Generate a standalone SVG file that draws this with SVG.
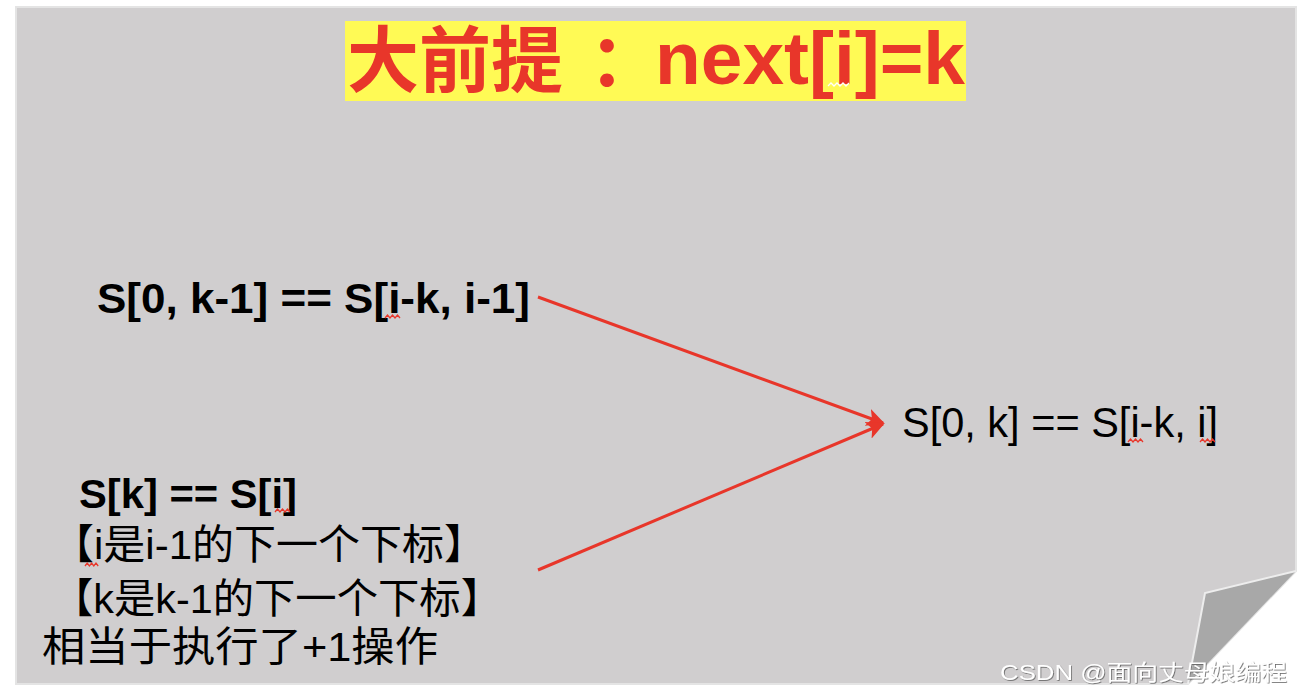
<svg xmlns="http://www.w3.org/2000/svg" width="1302" height="694" viewBox="0 0 1302 694">
<style>
.lat{font-family:"Liberation Sans","Noto Sans CJK SC",sans-serif;fill:#000}
.cjk{font-family:"Noto Sans CJK SC","Liberation Sans",sans-serif;fill:#000}
.b{font-weight:bold}
.red{stroke:#E8362A;stroke-width:3;fill:none}
.sq{stroke:#E8362A;stroke-width:1.3;fill:none}
</style>
<defs>
<marker id="ah" viewBox="0 0 10 10" refX="9" refY="5" markerWidth="6" markerHeight="6" markerUnits="strokeWidth" orient="auto">
<path d="M0,0 L10,5 L0,10 L2.5,5 Z" fill="#E8362A"/>
</marker>
<filter id="sh" x="-5%" y="-30%" width="110%" height="160%">
<feDropShadow dx="0.8" dy="0.8" stdDeviation="0.6" flood-color="#555" flood-opacity="0.9"/>
</filter>
</defs>
<rect width="1302" height="694" fill="#ffffff"/>
<g id="page">
<polygon points="16,7 1296,7 1296,571 1188,684 16,684" fill="#D0CECF" stroke="#E4E4E4" stroke-width="2"/>
<polygon points="1296,571 1205,593 1188,684" fill="#A8A8A8"/>
<polyline points="1296,571 1205,593 1188,684" fill="none" stroke="#EDEDED" stroke-width="2"/>
</g>
<g id="title">
<rect x="345" y="21" width="621" height="80" fill="#FFFA55"/>
<text x="347" y="86" font-size="72" class="cjk b" style="fill:#E8362A">大前提<tspan dx="26">：</tspan></text>
<text x="655" y="84" font-size="75" class="lat b" style="fill:#E8362A" textLength="310" lengthAdjust="spacingAndGlyphs">next[i]=k</text>
<path d="M828,86 l3,-3 l3,3 l3,-3 l3,3 l3,-3 l3,3 l3,-3" fill="none" stroke="#ffffff" stroke-width="1.3"/>
</g>
<g id="node-premise1">
<text x="97" y="313" font-size="42" class="lat b" textLength="433" lengthAdjust="spacingAndGlyphs">S[0, k-1] == S[i-k, i-1]</text>
<path class="sq" d="M385,318 l2.5,-3 l2.5,3 l2.5,-3 l2.5,3 l2.5,-3 l2.5,3"/>
</g>
<g id="node-premise2">
<text x="79" y="508" font-size="40" class="lat b" textLength="218" lengthAdjust="spacingAndGlyphs">S[k] == S[i]</text>
<path class="sq" d="M275,512 l2.5,-3 l2.5,3 l2.5,-3 l2.5,3 l2.5,-3 l2.5,3"/>
<text x="52" y="559" font-size="41" class="lat" textLength="434" lengthAdjust="spacingAndGlyphs">【i是i-1的下一个下标】</text>
<path class="sq" d="M85,566 l2.2,-3 l2.2,3 l2.2,-3 l2.2,3 l2.2,-3 l2.2,3"/>
<text x="52" y="613" font-size="41" class="lat" textLength="450" lengthAdjust="spacingAndGlyphs">【k是k-1的下一个下标】</text>
<text x="42" y="661" font-size="41" class="lat" textLength="396" lengthAdjust="spacingAndGlyphs">相当于执行了+1操作</text>
</g>
<g id="node-result">
<text x="902" y="437" font-size="42" class="lat" textLength="316" lengthAdjust="spacingAndGlyphs">S[0, k] == S[i-k, i]</text>
<path class="sq" d="M1128,442 l2.5,-3 l2.5,3 l2.5,-3 l2.5,3 l2.5,-3 l2.5,3"/>
<path class="sq" d="M1200,442 l2.5,-3 l2.5,3 l2.5,-3 l2.5,3 l2.5,-3 l2.5,3"/>
</g>
<g id="connectors">
<line class="red" x1="538" y1="297" x2="883" y2="423" marker-end="url(#ah)"/>
<line class="red" x1="538" y1="570" x2="883" y2="424" marker-end="url(#ah)"/>
</g>
<g id="watermark">
<text x="1000" y="680" font-size="22" class="lat" style="fill:#ffffff" filter="url(#sh)" textLength="287" lengthAdjust="spacingAndGlyphs">CSDN @面向丈母娘编程</text>
</g>
</svg>
